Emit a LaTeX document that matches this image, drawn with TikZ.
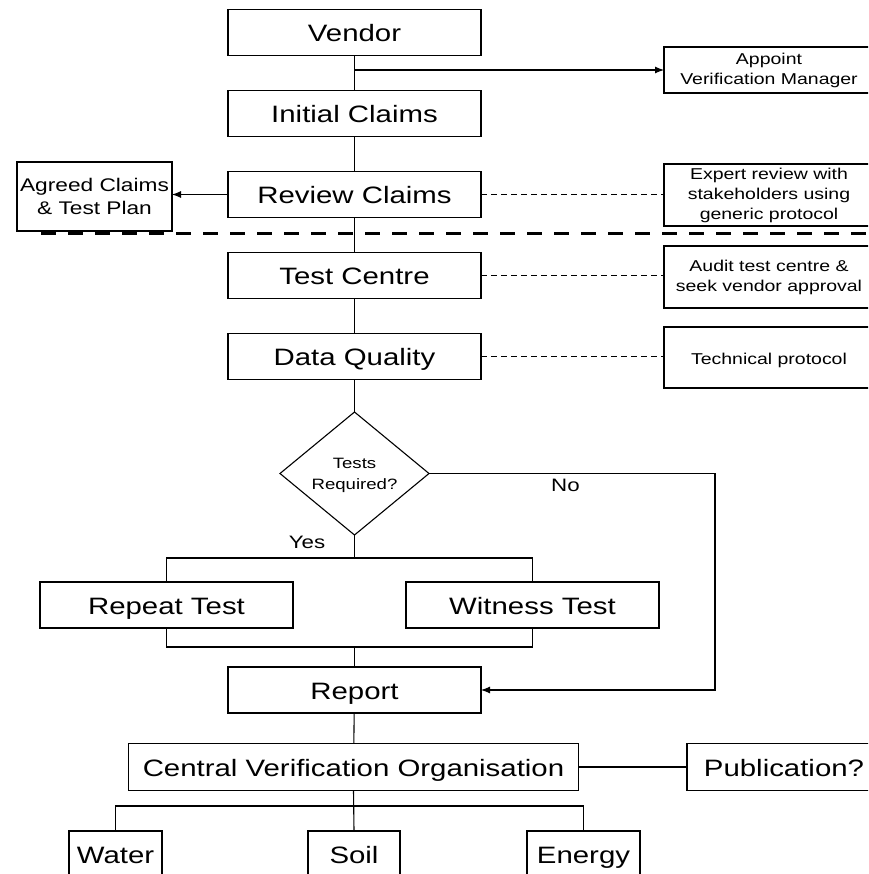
\documentclass[tikz,border=0pt]{standalone}
\usepackage{fontspec}
\setmainfont{Liberation Sans}[FakeStretch=1.24]
\usetikzlibrary{positioning}
\usetikzlibrary{shapes.geometric}
\usetikzlibrary{arrows.meta}

\begin{document}
\begin{tikzpicture}[x=1pt, y=-1pt, line width=1.1pt,
  every node/.style={draw, inner sep=0pt, outer sep=0pt, align=center},
  stepbox/.style={minimum width=253pt, minimum height=46pt, text height=18pt, text depth=0pt,
    font=\fontsize{23.7}{28}\selectfont},
  notebox/.style={minimum width=210pt, font=\fontsize{15.7}{20}\selectfont,
    execute at begin node={\rule{0pt}{17pt}}},
  answer/.style={draw=none, font=\fontsize{18}{22}\selectfont},
  arrow/.style={-{Latex[length=9pt, width=7pt]}},
  dashlink/.style={line width=1pt, dash pattern=on 6pt off 4pt}]
  \useasboundingbox (0,0) rectangle (868,874);
  \clip (0,0) rectangle (868,874);
  \node[stepbox] (vendor) at (354.5,32.5) {Vendor};
  \node[stepbox, below=35pt of vendor] (initial) {Initial Claims};
  \node[stepbox, below=35pt of initial] (review) {Review Claims};
  \node[stepbox, below=35pt of review] (centre) {Test Centre};
  \node[stepbox, below=35pt of centre] (quality) {Data Quality};
  \node[shape=diamond, aspect=1.21, minimum width=149pt, minimum height=123pt,
    font=\fontsize{15}{21}\selectfont] (tests) at (354.5,473.5)
    {\rule{0pt}{14pt}Tests\\Required?};
  \node[stepbox] (repeat) at (166.5,605) {Repeat Test};
  \node[stepbox] (witness) at (532.5,605) {Witness Test};
  \node[stepbox] (report) at (354.5,690) {Report};
  \node[stepbox, minimum width=450pt, minimum height=47pt] (cvo) at (353.5,767)
    {Central Verification Organisation};
  \node[stepbox, minimum width=194pt, minimum height=47pt] (publication) at (784,767)
    {Publication?};
  \begin{scope}[minimum height=66pt, text depth=10pt]
    \node[stepbox, minimum width=93pt] (water) at (115.5,854) {Water};
    \node[stepbox, minimum width=92pt] (soil) at (354,854) {Soil};
    \node[stepbox, minimum width=113pt] (energy) at (583.5,854) {Energy};
  \end{scope}
  \node[notebox, minimum height=46pt] (appoint) at (769,70)
    {Appoint\\Verification Manager};
  \node[notebox, minimum height=62pt] (expert) at (769,195)
    {Expert review with\\stakeholders using\\generic protocol};
  \node[notebox, minimum height=62pt] (audit) at (769,277)
    {Audit test centre \&\\seek vendor approval};
  \node[notebox, minimum height=61pt] (technical) at (769,357.5) {Technical protocol};
  \node[minimum width=155pt, minimum height=69pt, font=\fontsize{18.3}{22.5}\selectfont]
    (agreed) at (94.5,196.5) {Agreed Claims\\\& Test Plan};
  \node[answer] (yes) at (307,542.5) {Yes};
  \node[answer] (no) at (565.5,485.5) {No};
  \coordinate (split) at (354.5,558);
  \coordinate (join) at (354.5,647);
  \coordinate (nobend) at (715,690);
  \coordinate (fork) at (354.5,806);
  \draw (vendor) -- (initial);
  \draw[arrow] (vendor.south |- appoint.west) -- (appoint.west);
  \draw (initial) -- (review);
  \draw[arrow] (review.west) -- (review.west -| agreed.east);
  \draw[dashlink] (review.east) -- (review.east -| expert.west);
  \draw[line width=3pt, dash pattern=on 15pt off 12pt] (41,234) -- (868,234);
  \draw (review) -- (centre);
  \draw[dashlink] (centre.east) -- (centre.east -| audit.west);
  \draw (centre) -- (quality);
  \draw[dashlink] (quality.east) -- (quality.east -| technical.west);
  \draw (quality) -- (tests);
  \draw (tests.south) -- (split);
  \draw (repeat.north) |- (split) -| (witness.north);
  \draw (repeat.south) |- (join) -| (witness.south);
  \draw (join) -- (report.north);
  \draw[arrow] (tests.east) -| (nobend) -- (report.east);
  \draw (report) -- (cvo);
  \draw (cvo) -- (publication);
  \draw (cvo.south) -- (soil.north);
  \draw (water.north) |- (fork) -| (energy.north);
\end{tikzpicture}
\end{document}
